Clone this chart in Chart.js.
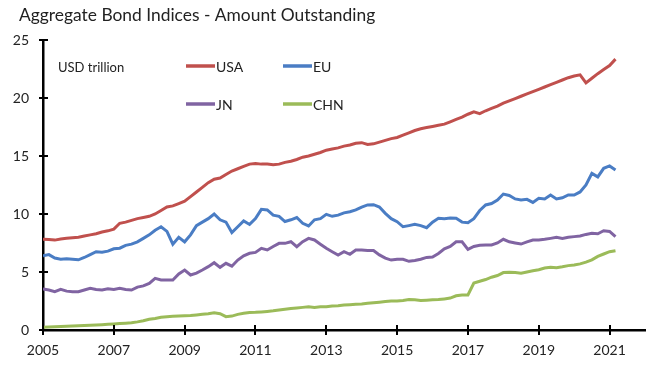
<!DOCTYPE html>
<html>
<head>
<meta charset="utf-8">
<script src="https://cdn.jsdelivr.net/npm/chart.js@4.4.1/dist/chart.umd.min.js"></script>
<style>
    html, body { margin: 0; padding: 0; background: #fff; }
    .chart-wrap { width: 655px; height: 365px; }
</style>
</head>
<body>
<div class="chart-wrap"><canvas class="myChart"></canvas></div>
<script>
// bimonthly observations, first one in Jan 2005
const startYear = 2005;
const stepsPerYear = 6;
const tickYears = [2005, 2007, 2009, 2011, 2013, 2015, 2017, 2019, 2021];
const yTicks = [0, 5, 10, 15, 20, 25];

const usaValues = [
    7.82, 7.80, 7.75, 7.85, 7.90, 7.95,
    8.00, 8.10, 8.20, 8.30, 8.45, 8.55,
    8.70, 9.20, 9.30, 9.45, 9.60, 9.70,
    9.80, 10.00, 10.30, 10.60, 10.70, 10.90,
    11.10, 11.50, 11.90, 12.30, 12.70, 13.00,
    13.10, 13.40, 13.70, 13.90, 14.10, 14.30,
    14.35, 14.30, 14.30, 14.25, 14.30, 14.45,
    14.55, 14.70, 14.90, 15.00, 15.15, 15.30,
    15.50, 15.60, 15.70, 15.85, 15.95, 16.10,
    16.15, 16.00, 16.05, 16.20, 16.35, 16.50,
    16.60, 16.80, 17.00, 17.20, 17.35, 17.45,
    17.55, 17.65, 17.75, 17.95, 18.15, 18.35,
    18.60, 18.80, 18.65, 18.90, 19.10, 19.30,
    19.55, 19.75, 19.95, 20.15, 20.35, 20.55,
    20.75, 20.95, 21.15, 21.35, 21.55, 21.75,
    21.90, 22.00, 21.30, 21.70, 22.10, 22.45,
    22.80, 23.35
];

const euValues = [
    6.40, 6.50, 6.20, 6.10, 6.15, 6.10,
    6.05, 6.25, 6.50, 6.75, 6.70, 6.80,
    7.00, 7.05, 7.30, 7.40, 7.60, 7.90,
    8.20, 8.60, 8.90, 8.50, 7.40, 8.00,
    7.60, 8.20, 9.00, 9.30, 9.60, 10.00,
    9.50, 9.30, 8.40, 8.90, 9.40, 9.10,
    9.60, 10.40, 10.35, 9.90, 9.80, 9.35,
    9.50, 9.70, 9.20, 8.97, 9.50, 9.60,
    9.97, 9.80, 9.90, 10.10, 10.20, 10.35,
    10.60, 10.78, 10.80, 10.60, 10.06, 9.60,
    9.34, 8.90, 9.00, 9.11, 9.00, 8.82,
    9.30, 9.63, 9.60, 9.65, 9.63, 9.30,
    9.25, 9.60, 10.30, 10.78, 10.90, 11.20,
    11.72, 11.60, 11.30, 11.20, 11.26, 11.00,
    11.35, 11.30, 11.64, 11.30, 11.40, 11.64,
    11.64, 11.90, 12.50, 13.50, 13.20, 13.94,
    14.14, 13.80
];

const jnValues = [
    3.53, 3.45, 3.30, 3.50, 3.35, 3.30,
    3.30, 3.45, 3.59, 3.50, 3.45, 3.55,
    3.50, 3.59, 3.50, 3.45, 3.70, 3.80,
    4.02, 4.45, 4.31, 4.30, 4.31, 4.83,
    5.17, 4.74, 4.90, 5.17, 5.46, 5.80,
    5.40, 5.75, 5.50, 6.03, 6.40, 6.61,
    6.69, 7.04, 6.90, 7.20, 7.47, 7.47,
    7.61, 7.18, 7.61, 7.90, 7.76, 7.40,
    7.04, 6.75, 6.47, 6.75, 6.53, 6.90,
    6.90, 6.85, 6.85, 6.47, 6.20, 6.03,
    6.10, 6.10, 5.92, 6.00, 6.10, 6.26,
    6.30, 6.60, 7.00, 7.20, 7.60, 7.60,
    6.95, 7.20, 7.30, 7.33, 7.33, 7.50,
    7.82, 7.60, 7.50, 7.41, 7.60, 7.76,
    7.76, 7.82, 7.90, 7.99, 7.90, 8.00,
    8.05, 8.10, 8.24, 8.33, 8.30, 8.56,
    8.50, 8.05
];

const chnValues = [
    0.23, 0.25, 0.27, 0.30, 0.32, 0.35,
    0.37, 0.39, 0.41, 0.43, 0.46, 0.49,
    0.52, 0.55, 0.58, 0.62, 0.70, 0.80,
    0.92, 1.00, 1.10, 1.15, 1.18, 1.20,
    1.23, 1.25, 1.30, 1.35, 1.40, 1.48,
    1.40, 1.15, 1.20, 1.35, 1.45, 1.50,
    1.52, 1.56, 1.60, 1.65, 1.72, 1.78,
    1.85, 1.90, 1.95, 2.01, 1.95, 2.00,
    2.00, 2.07, 2.10, 2.15, 2.18, 2.22,
    2.24, 2.30, 2.35, 2.40, 2.45, 2.50,
    2.50, 2.55, 2.62, 2.60, 2.55, 2.57,
    2.60, 2.62, 2.68, 2.75, 2.95, 3.02,
    3.02, 4.05, 4.20, 4.35, 4.55, 4.70,
    4.95, 4.97, 4.95, 4.90, 5.00, 5.11,
    5.20, 5.35, 5.40, 5.37, 5.45, 5.55,
    5.60, 5.70, 5.85, 6.05, 6.35, 6.55,
    6.75, 6.84
];

const seriesNames = ['USA', 'EU', 'JN', 'CHN'];
const seriesColors = ['#C0504D', '#4A7DC4', '#8064A2', '#9BBB59'];
const chartTitle = 'Aggregate Bond Indices - Amount Outstanding';
const FONT = 'Lato, "Open Sans", sans-serif';

function toPoints(values) {
    return values.map((v, i) => ({ x: startYear + i / stepsPerYear, y: v }));
}

// title, crossing tick marks, legend and unit label
const decorations = {
    id: 'decorations',
    afterDraw: (chart) => {
        const { ctx, chartArea, scales } = chart;
        ctx.save();
        ctx.fillStyle = '#222';
        ctx.textBaseline = 'middle';
        ctx.font = '17.4px ' + FONT;
        ctx.fillText(chartTitle, 19, 15);

        ctx.strokeStyle = '#000';
        ctx.lineWidth = 2;
        tickYears.forEach(v => {
            const x = Math.round(scales.x.getPixelForValue(v));
            ctx.beginPath();
            ctx.moveTo(x, chartArea.bottom - 5);
            ctx.lineTo(x, chartArea.bottom + 5);
            ctx.stroke();
        });
        yTicks.forEach(v => {
            const y = Math.round(scales.y.getPixelForValue(v));
            ctx.beginPath();
            ctx.moveTo(chartArea.left - 4, y);
            ctx.lineTo(chartArea.left + 5, y);
            ctx.stroke();
        });

        ctx.font = '13px ' + FONT;
        ctx.fillText('USD trillion', 58, 68);

        ctx.font = '14px ' + FONT;
        const cols = [186, 283];
        const rows = [66, 104];
        seriesNames.forEach((name, i) => {
            const x = cols[i % 2];
            const y = rows[Math.floor(i / 2)];
            ctx.strokeStyle = seriesColors[i];
            ctx.lineWidth = 3.5;
            ctx.beginPath();
            ctx.moveTo(x, y);
            ctx.lineTo(x + 29, y);
            ctx.stroke();
            ctx.fillText(name, x + 30, y + 1);
        });
        ctx.restore();
    }
};

function createChart() {
    const ctx = document.querySelector('.myChart').getContext('2d');
    const allValues = [usaValues, euValues, jnValues, chnValues];

    return new Chart(ctx, {
        type: 'line',
        data: {
            datasets: allValues.map((values, i) => ({
                label: seriesNames[i],
                data: toPoints(values),
                borderColor: seriesColors[i],
                borderWidth: 3,
                pointRadius: 0,
                tension: 0,
                fill: false
            }))
        },
        options: {
            responsive: true,
            maintainAspectRatio: false,
            animation: false,
            devicePixelRatio: 1,
            layout: { padding: { left: 0, right: 10, top: 40, bottom: 0 } },
            plugins: {
                legend: { display: false },
                tooltip: { enabled: false },
                title: { display: false }
            },
            scales: {
                x: {
                    type: 'linear',
                    min: 2005,
                    max: 2022,
                    afterBuildTicks: (scale) => {
                        scale.ticks = tickYears.map(v => ({ value: v }));
                    },
                    afterFit: (scale) => { scale.height = 35; },
                    grid: { display: false, drawTicks: false },
                    border: { display: true, color: '#000', width: 2.5 },
                    ticks: {
                        padding: 12,
                        color: '#222',
                        font: { family: FONT, size: 14 },
                        maxRotation: 0,
                        callback: (v) => String(v)
                    }
                },
                y: {
                    min: 0,
                    max: 25,
                    afterBuildTicks: (scale) => {
                        scale.ticks = yTicks.map(v => ({ value: v }));
                    },
                    afterFit: (scale) => { scale.width = 43; },
                    grid: { display: false, drawTicks: false },
                    border: { display: true, color: '#000', width: 2.5 },
                    ticks: {
                        padding: 14,
                        color: '#222',
                        font: { family: FONT, size: 14 }
                    }
                }
            }
        },
        plugins: [decorations]
    });
}

createChart();
</script>
</body>
</html>
